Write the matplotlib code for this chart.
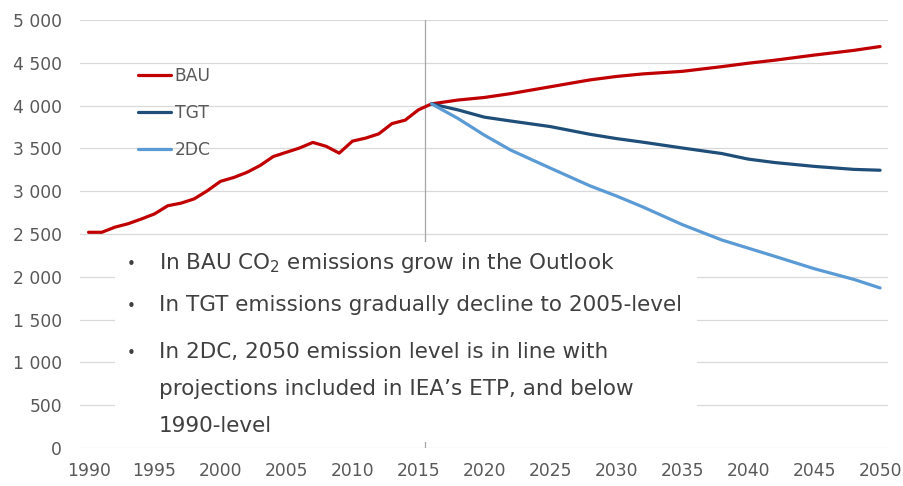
import matplotlib
matplotlib.use("Agg")
import matplotlib.pyplot as plt
from matplotlib.patches import Rectangle

# ---- data ----
hist_years = list(range(1990, 2017))
bau_hist = [2520, 2520, 2580, 2620, 2675, 2735, 2830, 2860, 2910, 3005,
            3115, 3160, 3220, 3300, 3405, 3455, 3505, 3570, 3525, 3445,
            3585, 3620, 3670, 3790, 3830, 3950, 4020]

proj_years = [2016, 2018, 2020, 2022, 2025, 2028, 2030, 2032, 2035, 2038,
              2040, 2042, 2045, 2048, 2050]
bau_proj = [4020, 4065, 4095, 4140, 4220, 4300, 4340, 4370, 4400, 4455,
            4495, 4530, 4590, 4645, 4690]
tgt_proj = [4020, 3950, 3865, 3820, 3755, 3665, 3615, 3573, 3505, 3440,
            3375, 3335, 3290, 3255, 3245]
dc2_proj = [4020, 3850, 3655, 3480, 3270, 3063, 2945, 2817, 2610, 2430,
            2335, 2240, 2095, 1970, 1870]

series_names = ["BAU", "TGT", "2DC"]
colors = ["#C00000", "#1F4E79", "#5B9BD5"]

x_ticks = list(range(1990, 2051, 5))
y_ticks = list(range(0, 5001, 500))
y_tick_labels = [f"{v:,}".replace(",", " ") for v in y_ticks]
divider_year = 2015.5

bullets = [
    ("In BAU CO$_2$ emissions grow in the Outlook", True),
    ("In TGT emissions gradually decline to 2005-level", True),
    ("In 2DC, 2050 emission level is in line with", True),
    ("projections included in IEA’s ETP, and below", False),
    ("1990-level", False),
]

# ---- figure ----
W, H = 904, 486
fig = plt.figure(figsize=(W / 100, H / 100), dpi=100)
fig.patch.set_facecolor("white")
L, R, B, T = 80, 888, 448, 20
ax = fig.add_axes([L / W, 1 - B / H, (R - L) / W, (B - T) / H])
ax.set_facecolor("white")

ax.set_xlim(1989.35, 2050.6)
ax.set_ylim(0, 5000)
ax.set_yticks(y_ticks)
ax.set_yticklabels(y_tick_labels)
ax.set_xticks(x_ticks)
ax.set_xticklabels([str(t) for t in x_ticks])
ax.tick_params(axis="both", length=0, labelsize=12.3, colors="#595959")
ax.tick_params(axis="y", pad=13)
ax.tick_params(axis="x", pad=10)
for s in ax.spines.values():
    s.set_visible(False)
ax.yaxis.grid(True, color="#D9D9D9", linewidth=0.9)
ax.set_axisbelow(True)

ax.axvline(divider_year, color="#A6A6A6", linewidth=0.9, zorder=1)

lw = 2.3
ax.plot(hist_years, bau_hist, color=colors[0], lw=lw, zorder=3,
        solid_capstyle="round", solid_joinstyle="round")
l1, = ax.plot(proj_years, bau_proj, color=colors[0], lw=lw, zorder=3,
              solid_capstyle="round", solid_joinstyle="round")
l2, = ax.plot(proj_years, tgt_proj, color=colors[1], lw=lw, zorder=4,
              solid_capstyle="round", solid_joinstyle="round")
l3, = ax.plot(proj_years, dc2_proj, color=colors[2], lw=lw, zorder=4,
              solid_capstyle="round", solid_joinstyle="round")

leg = ax.legend([l1, l2, l3], series_names, loc="upper left",
                bbox_to_anchor=((138 - L) / (R - L), (B - 67) / (B - T)),
                frameon=False, fontsize=12.3, handlelength=1.95,
                handletextpad=0.2, labelspacing=1.12, borderpad=0,
                borderaxespad=0)
for t in leg.get_texts():
    t.set_color("#595959")

# white text box
fig.patches.append(Rectangle((115 / W, 1 - 442 / H), (697 - 115) / W,
                             (442 - 242) / H, transform=fig.transFigure,
                             facecolor="white", edgecolor="none", zorder=5))

baselines = [269, 311, 358, 395, 432]
fs = 15.5
for (txt, bullet), yb in zip(bullets, baselines):
    if bullet:
        fig.text(127 / W, 1 - yb / H, "•", fontsize=fs * 0.7, color="#404040",
                 va="baseline", ha="left", zorder=6)
    fig.text(159 / W, 1 - yb / H, txt, fontsize=fs, color="#404040",
             va="baseline", ha="left", zorder=6)

fig.savefig("out.png", dpi=100, facecolor="white")
